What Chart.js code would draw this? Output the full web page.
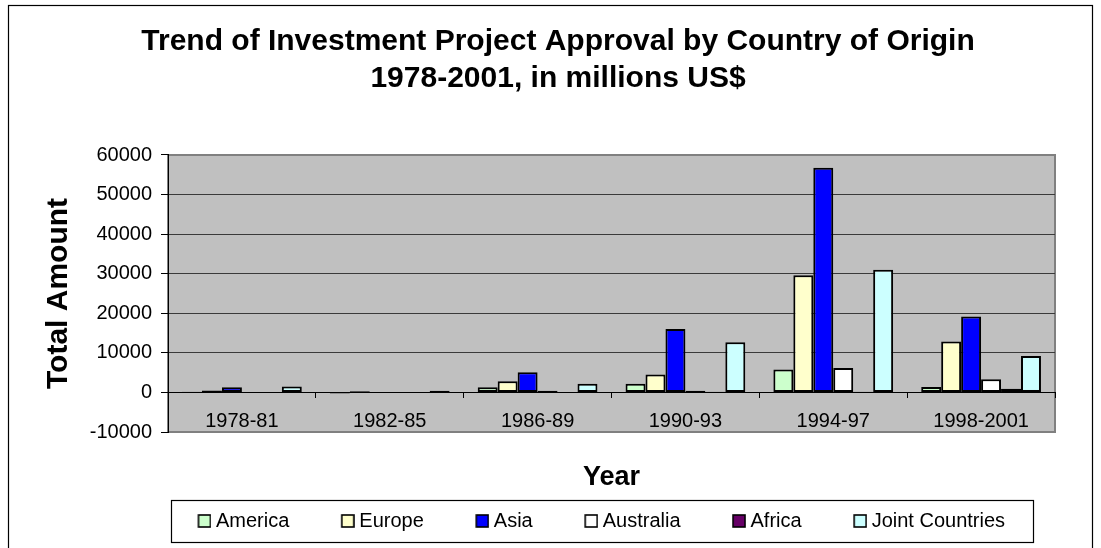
<!DOCTYPE html>
<html>
<head>
<meta charset="utf-8">
<script src="https://cdn.jsdelivr.net/npm/chart.js@4.4.0/dist/chart.umd.min.js"></script>
<style>
html,body{margin:0;padding:0;background:#ffffff;}
canvas{display:block;}
</style>
</head>
<body>
<canvas id="c" width="1101" height="548"></canvas>
<script>
// ---- data ----
const categories = ['1978-81', '1982-85', '1986-89', '1990-93', '1994-97', '1998-2001'];
const seriesNames = ['America', 'Europe', 'Asia', 'Australia', 'Africa', 'Joint Countries'];
const america   = [200, -300, 1300, 2200, 5800, 1400];
const europe    = [500, 300, 2800, 4500, 29600, 12900];
const asia      = [1300, 50, 5100, 16000, 56800, 19200];
const australia = [30, 20, 400, 400, 6200, 3300];
const africa    = [10, 0, 0, 200, 200, 900];
const joint     = [1500, 400, 2200, 12700, 31000, 9200];
const yMin = -10000;
const yMax = 60000;
const yStep = 10000;
const titleLines = ['Trend of Investment Project Approval by Country of Origin', '1978-2001, in millions US$'];
const yTitle = 'Total Amount';
const xTitle = 'Year';

// ---- styling ----
const FONT = 'Arial, "Liberation Sans", Helvetica, sans-serif';
const colors = ['#ccffcc', '#ffffcc', '#0000ff', '#ffffff', '#660066', '#ccffff'];
const values = [america, europe, asia, australia, africa, joint];

function makeMarker(color) {
  const c = document.createElement('canvas');
  c.width = 24; c.height = 14;
  const g = c.getContext('2d');
  g.fillStyle = color;
  g.fillRect(11, 1, 12, 12);
  g.strokeStyle = '#000000';
  g.lineWidth = 1.6;
  g.strokeRect(11, 1, 12, 12);
  return c;
}
const markers = colors.map(makeMarker);

const datasets = seriesNames.map((name, i) => ({
  label: name,
  data: values[i],
  backgroundColor: colors[i],
  borderColor: '#000000',
  borderWidth: 2,
  borderSkipped: false,
  categoryPercentage: 0.81,
  barPercentage: 1.0
}));

const decor = {
  id: 'decor',
  afterLayout(chart) {
    if (chart.legend) {
      chart.legend.left += 41;
      chart.legend.right += 41;
    }
  },
  beforeDraw(chart) {
    const {ctx, chartArea: a} = chart;
    ctx.save();
    ctx.fillStyle = '#c0c0c0';
    ctx.fillRect(a.left, a.top, a.right - a.left, a.bottom - a.top);
    ctx.strokeStyle = '#808080';
    ctx.lineWidth = 2;
    ctx.strokeRect(a.left, a.top, a.right - a.left, a.bottom - a.top);
    ctx.restore();
  },
  afterDraw(chart) {
    const {ctx} = chart;
    const lg = chart.legend;
    ctx.save();
    if (lg && lg.lineWidths) {
      const pad = lg.options.labels.padding;
      const span = lg.lineWidths[0] - pad;
      const cx = (lg.left + lg.right) / 2;
      const cy = lg.top + pad + 10;
      const x0 = Math.round(cx - span / 2 - 22) + 0.5;
      const x1 = Math.round(cx + span / 2 + 28) + 0.5;
      ctx.strokeStyle = '#000000';
      ctx.lineWidth = 1.2;
      ctx.strokeRect(x0, Math.round(cy - 21) + 0.5, x1 - x0, 42);
    }
    ctx.strokeStyle = '#000000';
    ctx.lineWidth = 1.2;
    ctx.strokeRect(8.5, 5.5, 1084, 600);
    ctx.restore();
  }
};

new Chart(document.getElementById('c'), {
  type: 'bar',
  data: { labels: categories, datasets },
  plugins: [decor],
  options: {
    responsive: false,
    animation: false,
    devicePixelRatio: 1,
    layout: { padding: { left: 15, right: 0, top: 5, bottom: 7 } },
    plugins: {
      tooltip: { enabled: false },
      title: {
        display: true,
        text: titleLines,
        color: '#000000',
        font: { family: FONT, size: 30, weight: 'bold', lineHeight: 1.2333 },
        padding: { top: 18, bottom: 58 }
      },
      legend: {
        position: 'bottom',
        fullSize: true,
        labels: {
          color: '#000000',
          font: { family: FONT, size: 20 },
          boxWidth: 13,
          boxHeight: 13,
          padding: 47,
          usePointStyle: true,
          generateLabels(chart) {
            const items = Chart.defaults.plugins.legend.labels.generateLabels(chart);
            items.forEach((it, i) => { it.pointStyle = markers[i]; });
            return items;
          }
        }
      }
    },
    scales: {
      x: {
        type: 'category',
        position: { y: 0 },
        offset: true,
        grid: {
          display: true,
          drawOnChartArea: false,
          drawTicks: true,
          tickLength: 5,
          offset: true,
          color: '#000000',
          tickColor: '#000000'
        },
        border: { display: true, color: '#000000', width: 1 },
        ticks: {
          color: '#000000',
          font: { family: FONT, size: 20 },
          padding: 12,
          maxRotation: 0,
          autoSkip: false
        }
      },
      x2: {
        type: 'category',
        position: 'bottom',
        grid: { display: false },
        border: { display: false },
        ticks: { display: false },
        title: {
          display: true,
          text: xTitle,
          color: '#000000',
          font: { family: FONT, size: 27, weight: 'bold' },
          padding: { top: 0, bottom: -30 }
        },
        afterFit(s) { s.height = 32; }
      },
      y: {
        type: 'linear',
        position: 'left',
        min: yMin,
        max: yMax,
        ticks: {
          stepSize: yStep,
          color: '#000000',
          font: { family: FONT, size: 20 },
          padding: 9,
          callback: (v) => String(v)
        },
        grid: {
          color: (c) => (c.tick && (c.tick.value === yMax || c.tick.value === yMin)) ? 'rgba(0,0,0,0)' : '#3a3a3a',
          tickColor: '#000000',
          tickLength: 7,
          lineWidth: 1
        },
        border: { display: true, color: '#000000', width: 1 },
        title: {
          display: true,
          text: yTitle,
          color: '#000000',
          font: { family: FONT, size: 30, weight: 'bold' },
          padding: { top: 26, bottom: 0 }
        },
        afterFit(s) { s.width = 153; }
      },
      y2: {
        type: 'linear',
        position: 'right',
        grid: { display: false },
        border: { display: false },
        ticks: { display: false },
        afterFit(s) { s.width = 46; }
      }
    }
  }
});
</script>
</body>
</html>
